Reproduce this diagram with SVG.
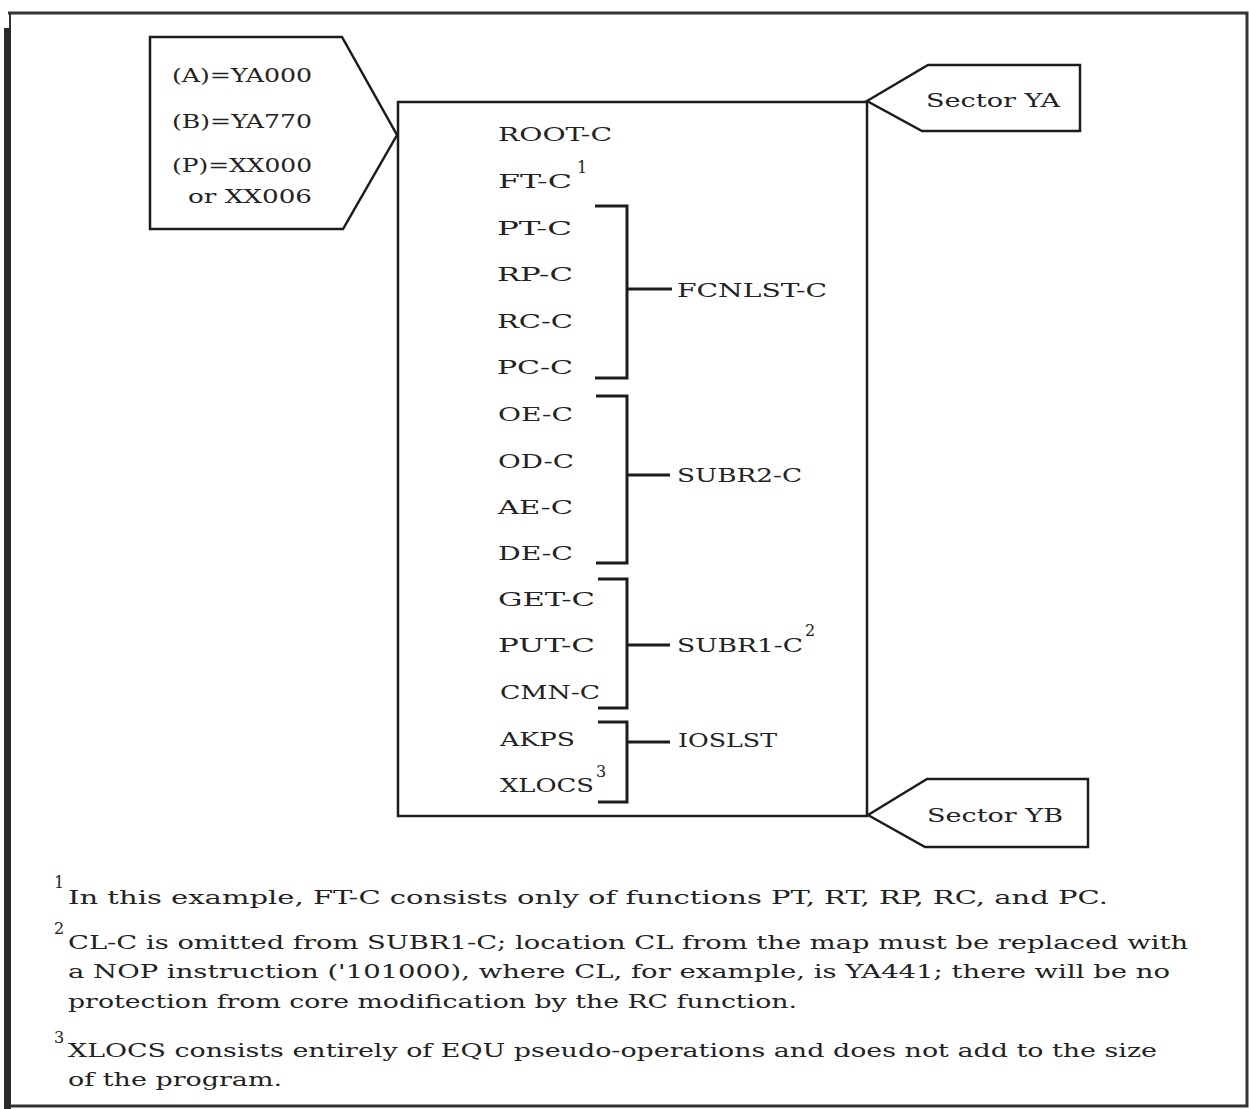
<svg xmlns="http://www.w3.org/2000/svg" width="1249" height="1109" viewBox="0 0 1249 1109">
<style>
.ln{fill:none;stroke:#1c1c1c;stroke-width:2.5;stroke-linejoin:miter}
.br{fill:none;stroke:#1c1c1c;stroke-width:3}
.t{font-family:"DejaVu Serif","Liberation Serif",serif;font-size:19px;fill:#222}
.f{font-family:"DejaVu Serif","Liberation Serif",serif;font-size:19px;fill:#222}
.s{font-family:"DejaVu Serif","Liberation Serif",serif;font-size:16px;fill:#222}
</style>
<rect x="0" y="0" width="1249" height="1109" fill="#fff"/>
<g id="frame">
<path d="M8 13 H1247 V1106 H8" fill="none" stroke="#333" stroke-width="3"/>
<line x1="10" y1="13" x2="10" y2="30" stroke="#333" stroke-width="2"/>
<rect x="4" y="28" width="7" height="1081" fill="#2a2a2a"/>
</g>
<g id="callout-addresses">
<path class="ln" d="M150 37 H342 L397 135 L343 229 H150 Z"/>
<text class="t" x="172" y="82" textLength="140" lengthAdjust="spacingAndGlyphs">(A)=YA000</text>
<text class="t" x="172" y="128" textLength="140" lengthAdjust="spacingAndGlyphs">(B)=YA770</text>
<text class="t" x="172" y="172" textLength="140" lengthAdjust="spacingAndGlyphs">(P)=XX000</text>
<text class="t" x="188" y="203" textLength="124" lengthAdjust="spacingAndGlyphs">or XX006</text>
</g>
<g id="main-box">
<rect class="ln" x="398" y="102" width="469" height="714"/>
<text class="t" x="498" y="141" textLength="114" lengthAdjust="spacingAndGlyphs">ROOT-C</text>
<text class="t" x="498" y="188" textLength="74" lengthAdjust="spacingAndGlyphs">FT-C</text>
<text class="s" x="577" y="173">1</text>
<text class="t" x="497" y="235" textLength="75" lengthAdjust="spacingAndGlyphs">PT-C</text>
<text class="t" x="497" y="281" textLength="76" lengthAdjust="spacingAndGlyphs">RP-C</text>
<text class="t" x="497" y="328" textLength="76" lengthAdjust="spacingAndGlyphs">RC-C</text>
<text class="t" x="497" y="374" textLength="76" lengthAdjust="spacingAndGlyphs">PC-C</text>
<text class="t" x="498" y="421" textLength="75" lengthAdjust="spacingAndGlyphs">OE-C</text>
<text class="t" x="498" y="468" textLength="76" lengthAdjust="spacingAndGlyphs">OD-C</text>
<text class="t" x="498" y="514" textLength="75" lengthAdjust="spacingAndGlyphs">AE-C</text>
<text class="t" x="498" y="560" textLength="75" lengthAdjust="spacingAndGlyphs">DE-C</text>
<text class="t" x="498" y="606" textLength="97" lengthAdjust="spacingAndGlyphs">GET-C</text>
<text class="t" x="498" y="652" textLength="97" lengthAdjust="spacingAndGlyphs">PUT-C</text>
<text class="t" x="500" y="699" textLength="100" lengthAdjust="spacingAndGlyphs">CMN-C</text>
<text class="t" x="500" y="746" textLength="75" lengthAdjust="spacingAndGlyphs">AKPS</text>
<text class="t" x="500" y="792" textLength="94" lengthAdjust="spacingAndGlyphs">XLOCS</text>
<text class="s" x="596" y="777">3</text>
</g>
<g id="group-labels">
<text class="t" x="677" y="297" textLength="150" lengthAdjust="spacingAndGlyphs">FCNLST-C</text>
<text class="t" x="677" y="482" textLength="125" lengthAdjust="spacingAndGlyphs">SUBR2-C</text>
<text class="t" x="677" y="652" textLength="126" lengthAdjust="spacingAndGlyphs">SUBR1-C</text>
<text class="s" x="805" y="636">2</text>
<text class="t" x="678" y="747" textLength="99" lengthAdjust="spacingAndGlyphs">IOSLST</text>
</g>
<g id="sector-ya">
<path class="ln" d="M867 101 L928 65 H1080 V131 H922 Z"/>
<text class="t" x="926" y="107" textLength="134" lengthAdjust="spacingAndGlyphs">Sector YA</text>
</g>
<g id="sector-yb">
<path class="ln" d="M868 815 L927 779 H1088 V847 H925 Z"/>
<text class="t" x="927" y="822" textLength="136" lengthAdjust="spacingAndGlyphs">Sector YB</text>
</g>
<g id="connectors">
<path class="br" d="M595 206 H627 V378 H595 M627 289 H672"/>
<path class="br" d="M596 396 H627 V563 H596 M627 475 H670"/>
<path class="br" d="M598 579 H627 V708 H598 M627 645 H670"/>
<path class="br" d="M598 722 H627 V802 H598 M627 742 H670"/>
</g>
<g id="footnotes">
<text class="s" x="54" y="888">1</text>
<text class="f" x="68" y="904" textLength="1040" lengthAdjust="spacingAndGlyphs">In this example, FT-C consists only of functions PT, RT, RP, RC, and PC.</text>
<text class="s" x="54" y="934">2</text>
<text class="f" x="68" y="949" textLength="1120" lengthAdjust="spacingAndGlyphs">CL-C is omitted from SUBR1-C; location CL from the map must be replaced with</text>
<text class="f" x="68" y="978" textLength="1102" lengthAdjust="spacingAndGlyphs">a NOP instruction ('101000), where CL, for example, is YA441; there will be no</text>
<text class="f" x="68" y="1008" textLength="729" lengthAdjust="spacingAndGlyphs">protection from core modification by the RC function.</text>
<text class="s" x="54" y="1043">3</text>
<text class="f" x="68" y="1057" textLength="1089" lengthAdjust="spacingAndGlyphs">XLOCS consists entirely of EQU pseudo-operations and does not add to the size</text>
<text class="f" x="68" y="1086" textLength="214" lengthAdjust="spacingAndGlyphs">of the program.</text>
</g>
</svg>
